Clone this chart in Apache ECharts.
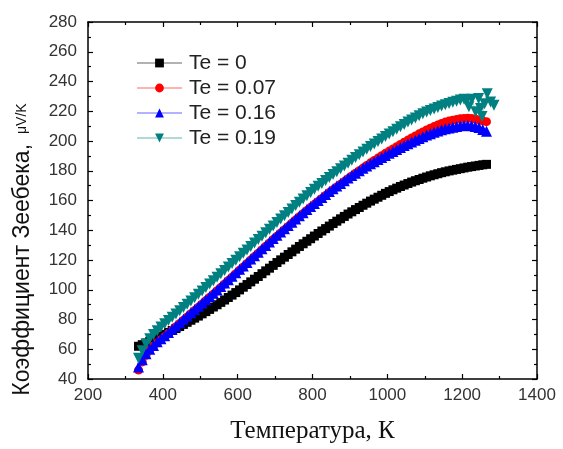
<!DOCTYPE html>
<html>
<head>
<meta charset="utf-8">
<script src="https://cdn.jsdelivr.net/npm/echarts@6/dist/echarts.min.js"></script>
<style>
  html, body { margin: 0; padding: 0; background: #fff; }
  #chart { width: 563px; height: 449px; }
</style>
</head>
<body>
<div id="chart"></div>
<script>
// Temperature grid (K) of the measured curves
const temperature = [
  335, 345, 355, 365, 375, 385, 395, 405, 415, 425,
  435, 445, 455, 465, 475, 485, 495, 505, 515, 525,
  535, 545, 555, 565, 575, 585, 595, 605, 615, 625,
  635, 645, 655, 665, 675, 685, 695, 705, 715, 725,
  735, 745, 755, 765, 775, 785, 795, 805, 815, 825,
  835, 845, 855, 865, 875, 885, 895, 905, 915, 925,
  935, 945, 955, 965, 975, 985, 995, 1005, 1015, 1025,
  1035, 1045, 1055, 1065, 1075, 1085, 1095, 1105, 1115, 1125,
  1135, 1145, 1155, 1165, 1175, 1185, 1195, 1205, 1215, 1225,
  1235, 1245, 1255, 1265
];

// Seebeck coefficient, µV/K
const seebeckTe000 = [
  62.0, 63.1, 64.2, 65.3, 66.4, 67.6, 68.8, 70.0, 71.3, 72.6,
  73.9, 75.3, 76.7, 78.1, 79.5, 80.9, 82.3, 83.8, 85.3, 86.8,
  88.4, 89.9, 91.5, 93.1, 94.8, 96.4, 98.1, 99.9, 101.7, 103.5,
  105.3, 107.1, 108.9, 110.8, 112.7, 114.5, 116.4, 118.3, 120.1, 121.9,
  123.7, 125.5, 127.3, 129.1, 130.9, 132.6, 134.3, 136.1, 137.8, 139.5,
  141.1, 142.8, 144.5, 146.1, 147.7, 149.3, 150.9, 152.4, 153.9, 155.3,
  156.8, 158.2, 159.6, 160.9, 162.2, 163.5, 164.8, 166.0, 167.2, 168.3,
  169.4, 170.4, 171.4, 172.4, 173.3, 174.1, 175.0, 175.8, 176.6, 177.3,
  178.0, 178.7, 179.3, 179.9, 180.4, 180.9, 181.4, 181.9, 182.4, 182.8,
  183.2, 183.6, 184.0, 184.3
];

const seebeckTe007 = [
  46.0, 51.5, 56.0, 59.5, 62.0, 64.4, 66.4, 68.5, 70.7, 72.9,
  75.1, 77.3, 79.5, 81.7, 83.9, 86.1, 88.3, 90.5, 92.7, 94.9,
  97.1, 99.3, 101.6, 103.9, 106.2, 108.5, 110.8, 113.1, 115.3, 117.7,
  120.0, 122.3, 124.6, 126.9, 129.2, 131.5, 133.8, 136.0, 138.2, 140.4,
  142.6, 144.8, 147.0, 149.1, 151.2, 153.3, 155.4, 157.4, 159.4, 161.4,
  163.4, 165.4, 167.3, 169.1, 170.9, 172.8, 174.7, 176.5, 178.3, 180.0,
  181.8, 183.6, 185.3, 186.9, 188.5, 190.1, 191.7, 193.2, 194.7, 196.2,
  197.7, 199.2, 200.6, 202.0, 203.4, 204.8, 206.1, 207.4, 208.6, 209.7,
  210.8, 211.8, 212.7, 213.4, 214.0, 214.5, 214.9, 215.2, 215.3, 215.2,
  214.8, 214.2, 213.5, 213.0
];

const seebeckTe016 = [
  48.0, 53.0, 57.0, 60.0, 62.5, 65.0, 67.0, 69.1, 71.3, 73.5,
  75.7, 77.9, 80.1, 82.3, 84.5, 86.7, 88.9, 91.1, 93.3, 95.5,
  97.7, 99.9, 102.2, 104.5, 106.8, 109.1, 111.4, 113.7, 115.9, 118.3,
  120.6, 122.9, 125.2, 127.5, 129.8, 132.1, 134.4, 136.6, 138.8, 141.0,
  143.2, 145.4, 147.6, 149.7, 151.8, 153.9, 156.0, 158.0, 160.0, 162.0,
  164.0, 166.0, 167.9, 169.7, 171.5, 173.3, 175.1, 176.8, 178.4, 180.0,
  181.6, 183.2, 184.7, 186.1, 187.5, 188.9, 190.3, 191.7, 193.0, 194.3,
  195.6, 196.9, 198.1, 199.3, 200.5, 201.7, 202.9, 204.0, 204.9, 205.8,
  206.7, 207.6, 208.3, 208.8, 209.3, 209.8, 210.3, 210.5, 210.4, 210.2,
  209.7, 209.0, 207.8, 206.5
];

// Te = 0.19 follows the common grid up to 1205 K, then a scattered tail
const seebeckTe019 = [
  54.0, 59.0, 63.5, 67.0, 70.0, 72.5, 74.9, 77.1, 79.3, 81.5,
  83.7, 85.9, 88.1, 90.3, 92.5, 94.7, 96.9, 99.2, 101.5, 103.8,
  106.1, 108.4, 110.7, 113.0, 115.3, 117.6, 119.9, 122.2, 124.5, 126.8,
  129.1, 131.4, 133.7, 136.0, 138.3, 140.6, 142.9, 145.2, 147.5, 149.7,
  152.0, 154.3, 156.6, 158.8, 161.0, 163.2, 165.4, 167.5, 169.5, 171.5,
  173.5, 175.5, 177.5, 179.4, 181.3, 183.2, 185.1, 187.0, 188.9, 190.8,
  192.6, 194.5, 196.3, 198.0, 199.7, 201.4, 203.1, 204.7, 206.3, 207.9,
  209.5, 211.1, 212.7, 214.1, 215.5, 216.9, 218.3, 219.5, 220.5, 221.5,
  222.5, 223.5, 224.4, 225.2, 226.0, 226.8, 227.5, 228.0
];
const tailTemperatureTe019 = [1213, 1218, 1226, 1236, 1244, 1249, 1253, 1260, 1267, 1276, 1285];
const tailSeebeckTe019 = [227.5, 223.0, 228.0, 219.7, 228.5, 221.9, 216.4, 225.0, 231.7, 226.3, 224.0];

// Axis ranges and ticks
const xTicks = { min: 200, max: 1400, step: 200 };
const yTicks = { min: 40, max: 280, step: 20 };

const seriesNames = ['Te = 0', 'Te = 0.07', 'Te = 0.16', 'Te = 0.19'];

function pairs(xs, ys) {
  return ys.map((y, i) => [xs[i], y]);
}

const chart = echarts.init(document.getElementById('chart'), null, { renderer: 'canvas' });

const frameLine = { show: true, onZero: false, lineStyle: { color: '#000', width: 1.5 } };
const majorTick = { show: true, inside: true, length: 5, lineStyle: { color: '#000', width: 1.2 } };
const minorTick = { show: true, splitNumber: 2, length: 3, lineStyle: { color: '#000', width: 1.2 } };
const labelStyle = { color: '#333', fontFamily: 'Liberation Sans, Arial, sans-serif', fontSize: 17 };

function markerSeries(name, data, color, symbol, size, rotate) {
  return {
    name: name,
    type: 'line',
    data: data,
    symbol: symbol,
    symbolSize: size,
    symbolRotate: rotate || 0,
    showAllSymbol: true,
    itemStyle: { color: color, opacity: 1 },
    lineStyle: { color: color, width: 1, opacity: 0.3 },
    emphasis: { disabled: true },
    z: 2
  };
}

chart.setOption({
  animation: false,
  backgroundColor: '#fff',
  grid: { left: 88, right: 26, top: 22, bottom: 63, containLabel: false },
  legend: {
    orient: 'vertical',
    left: 131,
    top: 46,
    itemWidth: 45,
    itemHeight: 11,
    itemGap: 1,
    textStyle: { color: '#222', fontFamily: 'Liberation Sans, Arial, sans-serif', fontSize: 21, lineHeight: 24, padding: [0, 0, 0, 2] },
    data: seriesNames
  },
  xAxis: [
    {
      type: 'value',
      min: xTicks.min, max: xTicks.max, interval: xTicks.step,
      position: 'bottom',
      name: 'Температура, К',
      nameLocation: 'middle',
      nameGap: 40,
      nameTextStyle: { color: '#111', fontFamily: 'Liberation Serif, Times New Roman, serif', fontSize: 25 },
      axisLine: frameLine,
      axisTick: majorTick,
      minorTick: minorTick,
      axisLabel: Object.assign({ margin: 8, formatter: v => String(v) }, labelStyle),
      splitLine: { show: false }
    },
    {
      type: 'value',
      min: xTicks.min, max: xTicks.max, interval: xTicks.step,
      position: 'top',
      axisLine: frameLine,
      axisTick: majorTick,
      minorTick: minorTick,
      axisLabel: { show: false },
      splitLine: { show: false }
    }
  ],
  yAxis: [
    {
      type: 'value',
      min: yTicks.min, max: yTicks.max, interval: yTicks.step,
      position: 'left',
      name: '{a|Коэффициент Зеебека,}   {b|μV/K}',
      nameLocation: 'middle',
      nameGap: 54,
      nameRotate: 90,
      nameTextStyle: {
        padding: [0, 98, 0, 0],
        rich: {
          a: { color: '#111', fontFamily: 'Liberation Sans, Arial, sans-serif', fontSize: 23 },
          b: { color: '#111', fontFamily: 'Liberation Sans, Arial, sans-serif', fontSize: 14 }
        }
      },
      axisLine: frameLine,
      axisTick: majorTick,
      minorTick: minorTick,
      axisLabel: Object.assign({ margin: 11 }, labelStyle),
      splitLine: { show: false }
    },
    {
      type: 'value',
      min: yTicks.min, max: yTicks.max, interval: yTicks.step,
      position: 'right',
      axisLine: frameLine,
      axisTick: majorTick,
      minorTick: minorTick,
      axisLabel: { show: false },
      splitLine: { show: false }
    }
  ],
  series: [
    markerSeries(seriesNames[0], pairs(temperature, seebeckTe000), '#000000', 'rect', 9),
    markerSeries(seriesNames[1], pairs(temperature, seebeckTe007), '#ff0000', 'circle', 9),
    markerSeries(seriesNames[2], pairs(temperature, seebeckTe016), '#0000ff', 'triangle', 11),
    markerSeries(seriesNames[3],
      pairs(temperature, seebeckTe019).concat(pairs(tailTemperatureTe019, tailSeebeckTe019)),
      '#008080', 'triangle', 11, 180)
  ]
});
</script>
</body>
</html>
